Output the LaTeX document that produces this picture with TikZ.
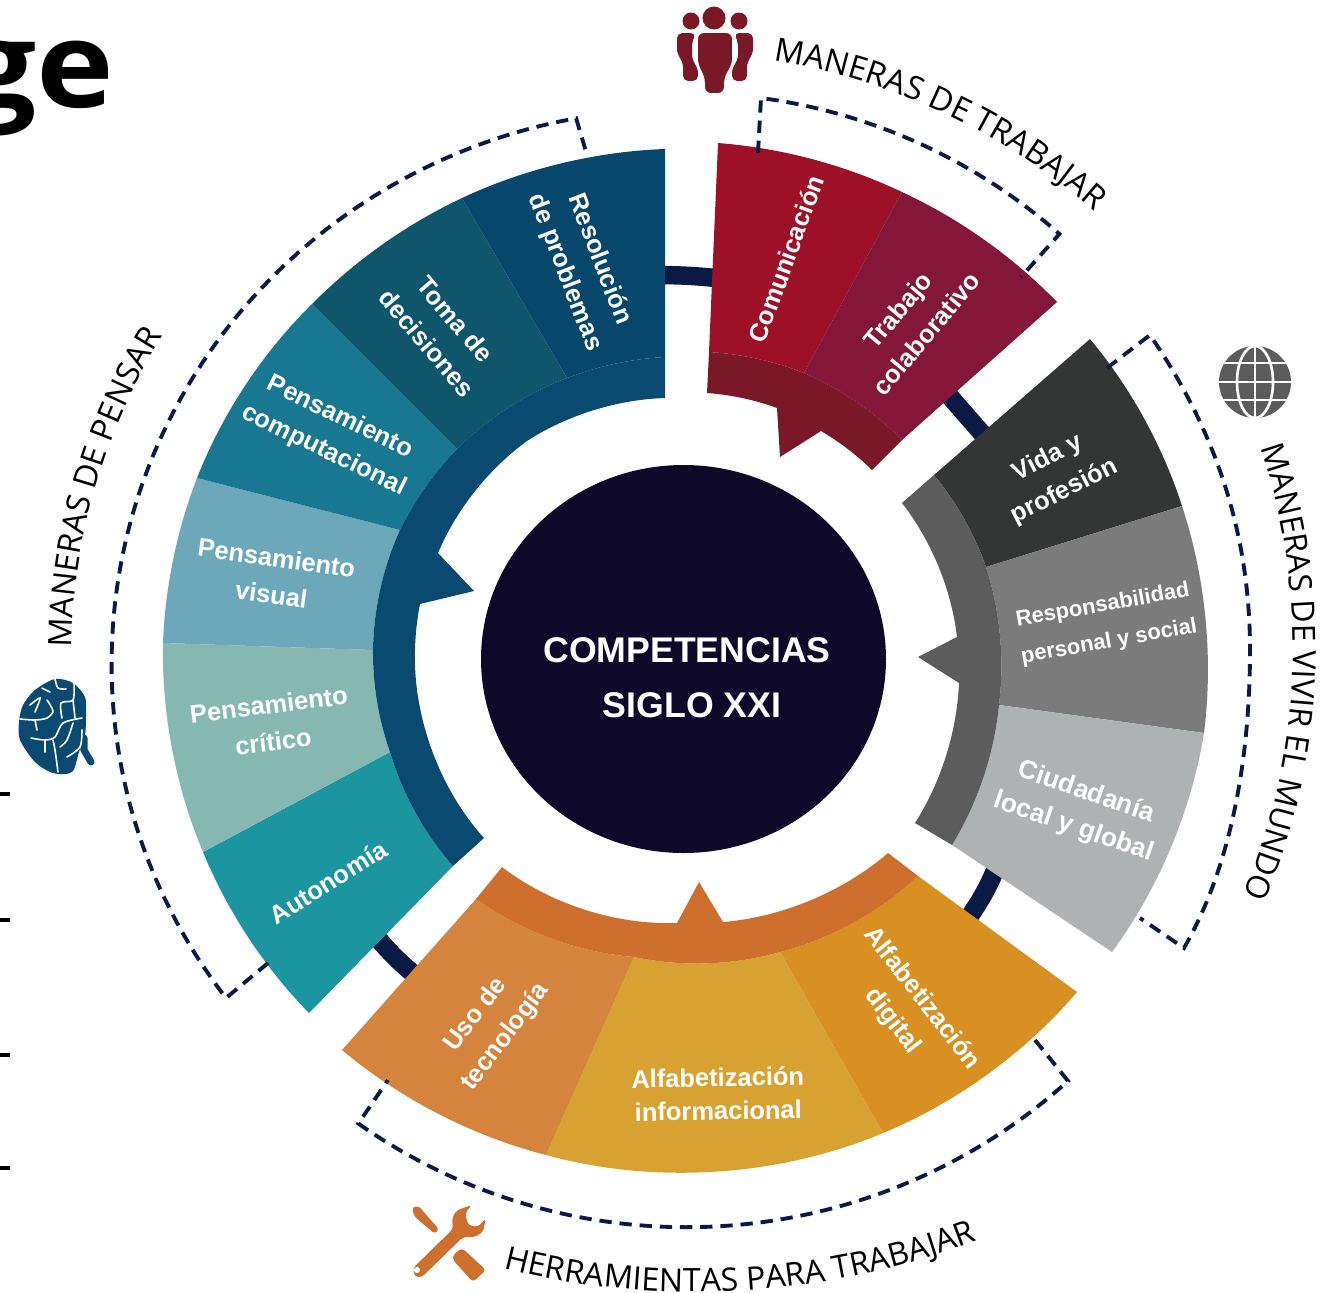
\documentclass[tikz,border=0pt]{standalone}
\usepackage{fontspec}
\setmainfont{Liberation Sans}
\newfontfamily\ringfont{Open Sans}
\usetikzlibrary{decorations.text}
\definecolor{navy}{HTML}{0A1A44}
\definecolor{core}{HTML}{0E0829}
\definecolor{resolucion}{HTML}{07476B}
\definecolor{toma}{HTML}{0F566D}
\definecolor{computacional}{HTML}{187892}
\definecolor{visual}{HTML}{6CA8BA}
\definecolor{critico}{HTML}{86B8B2}
\definecolor{autonomia}{HTML}{1B959F}
\definecolor{pensarring}{HTML}{0A4A70}
\definecolor{comunica}{HTML}{9E1027}
\definecolor{colabora}{HTML}{84163A}
\definecolor{trabajoring}{HTML}{7A1828}
\definecolor{vida}{HTML}{343635}
\definecolor{responsable}{HTML}{7B7B7B}
\definecolor{ciudad}{HTML}{AFB2B3}
\definecolor{vivirring}{HTML}{5C5C5C}
\definecolor{uso}{HTML}{D5843D}
\definecolor{informa}{HTML}{D8A233}
\definecolor{digital}{HTML}{D79021}
\definecolor{toolring}{HTML}{CF6F2E}
\tikzstyle{seglabel} = [text=white,align=center,font=\bfseries\fontsize{14.5}{21}\selectfont]
\tikzstyle{bracket} = [navy,line width=2.2pt,dash pattern=on 7pt off 4.5pt]
\tikzstyle{link} = [navy,line width=10.5pt]
\tikzstyle{cw} = [bend left=#1,looseness=.85]
\tikzstyle{ccw} = [bend right=#1,looseness=.85]
\tikzstyle{crease} = [white,line width=.9pt,line cap=round]
% outer arc a to b clockwise, then inner arc c to d back
\newcommand{\sector}[7]{\fill[#1] #2 to[cw=#3] #4 -- #5 to[ccw=#6] #7 -- cycle;}
\newcommand{\ringtitle}[4]{\path[decorate,decoration={text along path,text align=center,text format delimiters={|}{|},
	text={|\ringfont\fontsize{#4}{20}\selectfont|#3}}] #1 #2;}
\begin{document}
\begin{tikzpicture}[x=0.02cm,y=-0.02cm]
	\useasboundingbox (0,0) rectangle (1335,1292);

	\node [anchor=base east,inner sep=0pt,xscale=1.1,font=\ringfont\bfseries\fontsize{68}{80}\selectfont](word) at (115,107){ge};
	\draw[black,line width=2.8pt](0,794)--(10,794);
	\draw[black,line width=2.8pt](0,920)--(10,920);
	\draw[black,line width=2.8pt](0,1055)--(10,1055);
	\draw[black,line width=2.8pt](0,1168)--(10,1168);

	% links between the four groups
	\draw[link](655,275) to[bend left=3] (725,279);
	\draw[link](945,391)--(987,439);
	\draw[link](997,866) to[bend left=6] (967,920);
	\draw[link](375,935) to[bend right=5] (416,976);

	% maneras de pensar
	\sector{autonomia}{(309,1013)}{11}{(203,852)}{(390,752)}{12.4}{(453,866)}
	\sector{critico}{(203,852)}{12}{(163,643)}{(373,650)}{10}{(390,752)}
	\sector{visual}{(163,643)}{9.5}{(197,478)}{(400,530)}{11.8}{(373,650)}
	\sector{computacional}{(197,478)}{12}{(312,304)}{(457,449)}{9}{(400,530)}
	\sector{toma}{(312,304)}{10}{(462,198)}{(567,378)}{12}{(457,449)}
	\sector{resolucion}{(462,198)}{11.5}{(665,149)}{(665,357)}{9}{(567,378)}
	\fill[pensarring](453,866) to[cw=12.4] (390,752) to[cw=10] (373,650) to[cw=11.8] (400,530) to[cw=9] (457,449)
		to[cw=12] (567,378) to[cw=9] (665,357)
		-- (665,398) to[ccw=15.5] (527,441) to[ccw=15.5] (438,553) -- (474,591) -- (420,604)
		to[ccw=5] (415,650) to[ccw=22] (484,838) -- cycle;

	% maneras de trabajar
	\sector{comunica}{(718,143)}{10.5}{(902,192)}{(804,373)}{9}{(709,352)}
	\sector{colabora}{(902,192)}{10.5}{(1057,302)}{(902,440)}{11}{(804,373)}
	\fill[trabajoring](707,393) -- (709,352) to[cw=9] (804,373) to[cw=11] (902,440) -- (872,470)
		to[ccw=7] (821,431) -- (780,457) -- (777,408) to[ccw=8] cycle;

	% maneras de vivir el mundo
	\sector{vida}{(1090,339)}{11}{(1182,506)}{(986,567)}{10}{(934,475)}
	\sector{responsable}{(1182,506)}{12.7}{(1204,733)}{(999,705)}{12.5}{(986,567)}
	\sector{ciudad}{(1204,733)}{13.5}{(1112,952)}{(952,845)}{13}{(999,705)}
	\fill[vivirring](934,475) to[cw=10] (986,567) to[cw=12.5] (999,705) to[cw=13] (952,845) -- (915,823)
		to[ccw=15] (959,683) -- (918,657) -- (957,637) to[ccw=15.5] (902,503) -- cycle;

	% herramientas para trabajar
	\sector{digital}{(1077,992)}{13.5}{(883,1133)}{(780,952)}{14.5}{(918,876)}
	\sector{informa}{(883,1133)}{19.2}{(546,1155)}{(634,957)}{14}{(780,952)}
	\sector{uso}{(546,1155)}{12.8}{(342,1050)}{(476,899)}{15.5}{(634,957)}
	\fill[toolring](918,876) to[cw=14.5] (780,952) to[cw=14] (634,957) to[cw=15.5] (476,899) -- (502,867)
		to[ccw=19.7] (677,923) -- (699,882) -- (723,922) to[ccw=18] (888,853) -- cycle;

	\fill[core](683.5,659) ellipse [x radius=202.5,y radius=194];
	\node [seglabel,font=\bfseries\fontsize{20.3}{31}\selectfont](competencias) at (687,650){COMPETENCIAS};
	\node [seglabel,font=\bfseries\fontsize{20.3}{31}\selectfont](siglo) at (692,705){SIGLO XXI};

	\node [seglabel,rotate=-69](res) at (582,266){Resolución\\de problemas};
	\node [seglabel,rotate=-50](tom) at (441,331){Toma de\\decisiones};
	\node [seglabel,rotate=-26](com) at (332,434){Pensamiento\\computacional};
	\node [seglabel,rotate=-8](vis) at (274,576){Pensamiento\\visual};
	\node [seglabel,rotate=7](cri) at (271,723){Pensamiento\\crítico};
	\node [seglabel,rotate=32](aut) at (328,882){Autonomía};
	\node [seglabel,rotate=70](comu) at (786,259){Comunicación};
	\node [seglabel,rotate=50](cola) at (912,322){Trabajo\\colaborativo};
	\node [seglabel,rotate=27](vid) at (1056,475){Vida y\\profesión};
	\node [seglabel,rotate=10,font=\bfseries\fontsize{12.5}{21}\selectfont](resp) at (1106,624){Responsabilidad\\personal y social};
	\node [seglabel,rotate=-19,font=\bfseries\fontsize{15}{21}\selectfont](ciu) at (1080,810){Ciudadanía\\local y global};
	\node [seglabel,rotate=53](usot) at (491,1026){Uso de\\tecnología};
	\node [seglabel,rotate=1,font=\bfseries\fontsize{14.5}{19}\selectfont](inf) at (718,1094){Alfabetización\\informacional};
	\node [seglabel,rotate=-52](dig) at (907,1010){Alfabetización\\digital};

	% brackets
	\draw[bracket](268,963)--(226,998) arc[start angle=143,end angle=259.5,x radius=568,y radius=555]--(587,155);
	\draw[bracket](758,153)--(761,98) arc[start angle=-82.4,end angle=-48.6,radius=564]--(1021,277);
	\draw[bracket](1107,368)--(1150,335) .. controls (1216,431) and (1250,534) .. (1250,650)
		.. controls (1250,750) and (1234,861) .. (1184,948)--(1140,918);
	\draw[bracket](1035,1040)--(1068,1081) arc[start angle=47.8,end angle=125.3,x radius=568,y radius=564]--(388,1080);

	\ringtitle{(72,647)}{to[cw=16]  (163,336)}{MANERAS DE PENSAR}{18.4}
	\ringtitle{(769,60)}{to[cw=17] (1098,215)}{MANERAS DE TRABAJAR}{18.5}
	\ringtitle{(1260,447)}{to[cw=21.5] (1243,895)}{MANERAS DE VIVIR EL MUNDO}{18.2}
	\ringtitle{(503,1268)}{to[ccw=18] (977,1240)}{HERRAMIENTAS PARA TRABAJAR}{18.3}

	% people
	\fill[trabajoring](714,18) circle (11.5);
	\fill[trabajoring](691,21) circle (8.5);
	\fill[trabajoring](739,21) circle (8.5);
	\fill[trabajoring,rounded corners=3pt](677,33)--(696,33)--(692,42)--(692,60)--(698,68)--(698,81)--(683,81)--(683,62)--(677,54)--cycle;
	\fill[trabajoring,rounded corners=3pt](753,33)--(734,33)--(738,42)--(738,60)--(732,68)--(732,81)--(747,81)--(747,62)--(753,54)--cycle;
	\filldraw[trabajoring,draw=white,line width=1pt,rounded corners=4pt](697,32)--(733,32)--(733,66)--(725,76)--(725,94)--(704,94)--(704,76)--(697,66)--cycle;

	% globe
	\fill[vivirring](1255,382) circle (36);
	\draw[white,line width=1.5pt](1255,344)--(1255,420);
	\draw[white,line width=1.5pt](1215,363)--(1295,363);
	\draw[white,line width=1.5pt](1215,382)--(1295,382);
	\draw[white,line width=1.5pt](1215,400)--(1295,400);
	\draw[white,line width=1.5pt](1255,382) ellipse [x radius=18,y radius=36];

	% brain
	\fill[pensarring] plot[smooth cycle] coordinates {(55,679) (73,683) (85,697) (86,715) (85,735) (79,752) (72,772) (53,773) (35,762) (20,740) (19,722) (23,705) (35,690)};
	\draw[pensarring,line width=4pt,line cap=round](84,738)--(84,750)--(91,762);
	\draw[crease] plot[smooth] coordinates {(20,719) (35,720) (47,718) (53,711) (47,700)};
	\draw[crease] plot[smooth] coordinates {(30,705) (40,698) (35,712)};
	\draw[crease](35,720)--(37,730);
	\draw[crease] plot[smooth] coordinates {(31,738) (45,740) (55,737) (63,723) (82,718)};
	\draw[crease](45,740)--(45,752);
	\draw[crease] plot[smooth] coordinates {(53,740) (55,750) (58,772)};
	\draw[crease] plot[smooth] coordinates {(62,718) (61,703) (73,700) (74,683)};
	\draw[crease](73,700)--(75,718);
	\draw[crease] plot[smooth] coordinates {(73,723) (67,740) (60,747)};
	\draw[crease] plot[smooth] coordinates {(67,757) (80,747) (82,730)};
	\draw[crease](42,688)--(50,692);
	\draw[crease] plot[smooth] coordinates {(55,679) (58,688) (66,689)};

	% tools
	\fill[toolring,rounded corners=2pt](413,1268)--(453,1229)--(452,1218)--(457,1210)--(472,1205)--(465,1213)--(468,1225)--(478,1227)--(486,1218)--(483,1232)--(475,1237)--(463,1237)--(422,1277)--(415,1277)--cycle;
	\fill[white](417,1270) circle (3);
	\fill[toolring,rounded corners=2pt](412,1207)--(419,1206)--(428,1217)--(439,1229)--(435,1234)--(422,1223)--(414,1216)--cycle;
	\fill[toolring,rounded corners=2pt](453,1255)--(462,1248)--(486,1270)--(473,1282)--(453,1260)--cycle;
\end{tikzpicture}
\end{document}
